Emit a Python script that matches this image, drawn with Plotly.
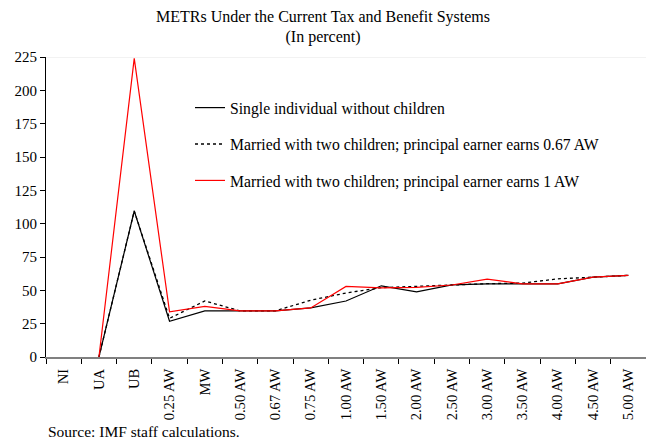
import plotly.graph_objects as go

categorias = ["NI", "UA", "UB", "0.25 AW", "MW", "0.50 AW", "0.67 AW", "0.75 AW",
              "1.00 AW", "1.50 AW", "2.00 AW", "2.50 AW", "3.00 AW", "3.50 AW",
              "4.00 AW", "4.50 AW", "5.00 AW"]

solteiro = [None, 0, 109.5, 26.8, 34.6, 34.6, 34.6, 36.8, 42.0, 53.4, 48.9, 54.1, 54.9, 54.9, 54.9, 59.9, 61.2]
casado_067 = [None, 0, 109.5, 29.0, 42.0, 34.6, 34.6, 42.6, 48.0, 52.0, 53.0, 54.5, 55.0, 55.4, 58.6, 59.9, 61.2]
casado_1 = [None, 0, 224.0, 33.8, 38.0, 34.6, 34.6, 36.8, 52.9, 51.9, 52.2, 54.0, 58.4, 54.9, 54.9, 59.9, 61.2]

nomes = ["Single individual without children",
         "Married with two children; principal earner earns 0.67 AW",
         "Married with two children; principal earner earns 1 AW"]

fonte = "Liberation Serif, Times New Roman, serif"

fig = go.Figure()
fig.add_trace(go.Scatter(x=categorias, y=solteiro, name=nomes[0], mode="lines",
                         line=dict(color="black", width=1.2), legendgroup="a"))
fig.add_trace(go.Scatter(x=categorias, y=casado_067, name=nomes[1], mode="lines",
                         line=dict(color="black", width=1.3, dash="dot"), legendgroup="b"))
fig.add_trace(go.Scatter(x=categorias, y=casado_1, name=nomes[2], mode="lines",
                         line=dict(color="#ff0000", width=1.2), legendgroup="c"))

# linha fina no topo do grafico
fig.add_shape(type="line", xref="paper", yref="y", x0=0, x1=1, y0=225, y1=225,
              line=dict(color="#e6e6e6", width=1))

fig.update_layout(
    width=646, height=440,
    margin=dict(l=46, r=0, t=57, b=83),
    paper_bgcolor="white", plot_bgcolor="white",
    font=dict(family=fonte, size=14, color="black"),
    title=dict(text="METRs Under the Current Tax and Benefit Systems<br>(In percent)",
               x=0.5, xref="container", y=0.951, yanchor="top",
               font=dict(family=fonte, size=16, color="black")),
    showlegend=True,
    legend=dict(x=0.24, y=0.887, xanchor="left", yanchor="top",
                bgcolor="rgba(0,0,0,0)", font=dict(family=fonte, size=15.7),
                traceorder="grouped", tracegroupgap=13, itemwidth=30),
    annotations=[dict(text="Source: IMF staff calculations.", xref="paper", yref="paper",
                      x=0, y=-0.249, xanchor="left", yanchor="middle", showarrow=False,
                      font=dict(family=fonte, size=15.5))],
)

fig.update_xaxes(type="category", range=[-0.5, 16.5], tickangle=-90,
                 tickson="boundaries", ticks="outside", ticklen=5, tickcolor="black",
                 ticklabelstandoff=4,
                 showline=True, linecolor="#808080", linewidth=2, showgrid=False,
                 tickfont=dict(family=fonte, size=14.6))
fig.update_yaxes(range=[0, 225], dtick=25, ticks="outside", ticklen=5, tickcolor="black",
                 showline=True, linecolor="black", linewidth=1, showgrid=False,
                 zeroline=False, tickfont=dict(family=fonte, size=15))

# tira a margem padrao do body para a figura ocupar a janela toda
fig.write_html("out.html", config={"displayModeBar": False},
               post_script="document.body.style.margin='0';")
